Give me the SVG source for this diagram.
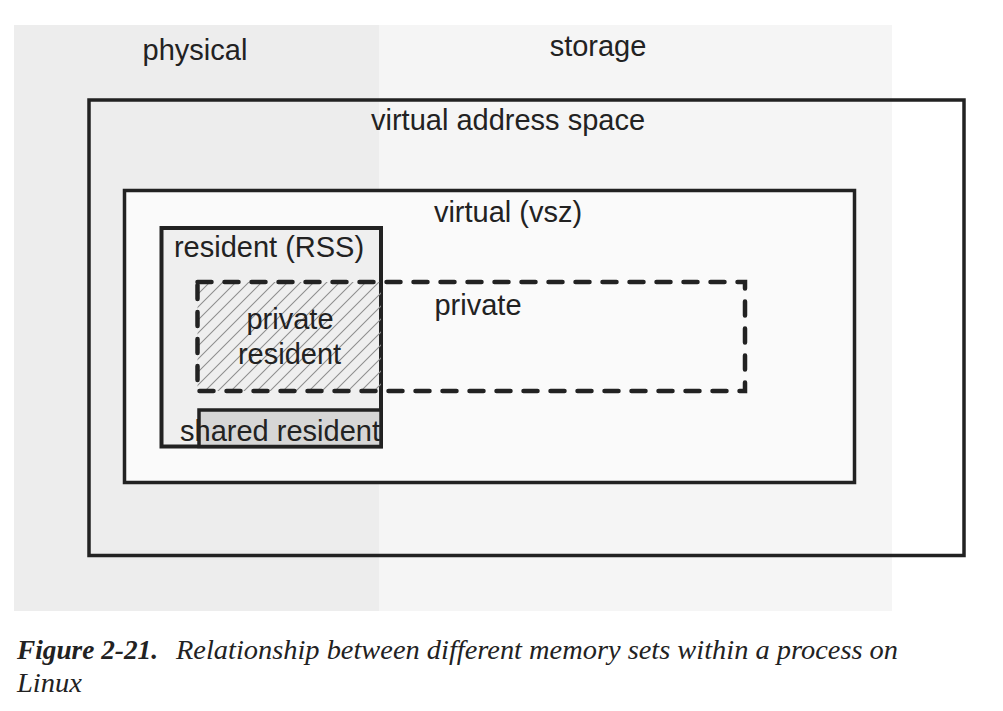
<svg xmlns="http://www.w3.org/2000/svg" width="1003" height="711" viewBox="0 0 1003 711">
<style>
.lbl{font-family:"Liberation Sans",Arial,sans-serif;font-size:29px;fill:#222;text-anchor:middle}
.box{stroke:#222;stroke-width:3.5}
.cap{font-family:"Liberation Serif","Times New Roman",serif;font-size:27px;fill:#222;font-style:italic}
</style>
<defs>
<pattern id="hatch" patternUnits="userSpaceOnUse" width="13" height="13" x="197" y="282">
<path d="M-1,1 l2,-2 M0,13 l13,-13 M12,14 l2,-2" stroke="#8f8f8f" stroke-width="1.1"/>
</pattern>
</defs>
<rect width="1003" height="711" fill="#fff"/>
<g id="physical">
<rect x="14" y="25" width="365" height="586" fill="#ededed"/>
<text class="lbl" x="195" y="60">physical</text>
</g>
<g id="storage">
<rect x="379" y="25" width="513" height="586" fill="#f5f5f5"/>
<text class="lbl" x="598" y="56">storage</text>
</g>
<g id="virtual-address-space">
<rect class="box" x="89" y="100" width="875" height="455.5" fill="none"/>
<text class="lbl" x="508" y="130">virtual address space</text>
</g>
<g id="virtual-vsz">
<rect class="box" x="124.5" y="190.5" width="730" height="292" fill="#fafafa"/>
<text class="lbl" x="508" y="222">virtual (vsz)</text>
</g>
<g id="resident-rss">
<rect x="161.5" y="228" width="219.5" height="218.5" fill="#efefef" stroke="#222" stroke-width="4"/>
<text class="lbl" x="269" y="257">resident (RSS)</text>
</g>
<g id="private-resident">
<rect x="197.5" y="282" width="183.5" height="109" fill="url(#hatch)"/>
<text class="lbl" x="290" y="329">private</text>
<text class="lbl" x="289.5" y="364">resident</text>
</g>
<g id="shared-resident">
<rect x="199" y="410" width="182" height="36.5" fill="#d6d6d6" stroke="#222" stroke-width="3.5"/>
<text class="lbl" x="280" y="441">shared resident</text>
</g>
<g id="private">
<rect x="197.5" y="282" width="547.5" height="109" fill="none" stroke="#222" stroke-width="4.5" stroke-dasharray="14 13" stroke-linecap="round"/>
<text class="lbl" x="478" y="315">private</text>
</g>
<g id="connectors"></g>
<g id="caption">
<text class="cap" x="17" y="659" font-weight="bold" textLength="141" lengthAdjust="spacingAndGlyphs">Figure 2-21.</text>
<text class="cap" x="176" y="659" textLength="722" lengthAdjust="spacingAndGlyphs">Relationship between different memory sets within a process on</text>
<text class="cap" x="17" y="692" textLength="65" lengthAdjust="spacingAndGlyphs">Linux</text>
</g>
</svg>
